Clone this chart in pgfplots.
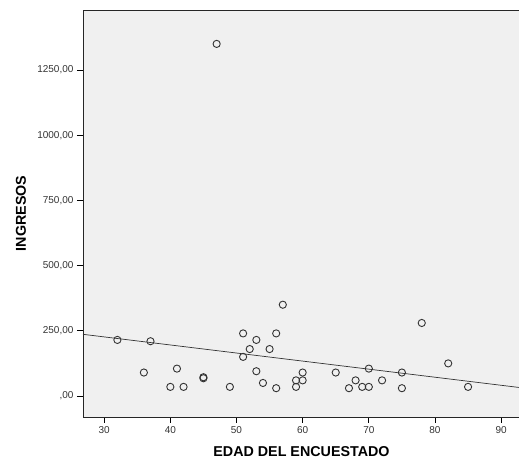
\documentclass[border=0pt]{standalone}
\usepackage{pgfplots}
\pgfplotsset{compat=1.18}
\usepackage{fontspec}
\setmainfont{Liberation Sans}
\definecolor{bggrey}{HTML}{F0F0F0}
\definecolor{ptgrey}{HTML}{333333}
\begin{document}
\begin{tikzpicture}[x=1pt,y=1pt]
\path[use as bounding box] (-83,-45) rectangle (436,417);
\begin{axis}[
  at={(0,0)}, anchor=south west,
  scale only axis,
  width=437pt, height=407pt,
  xmin=26.8, xmax=92.85,
  ymin=-80.5, ymax=1480,
  axis background/.style={fill=bggrey},
  axis line style={black!85, line width=0.7pt},
  xtick={30,40,...,90},
  ytick={0,250,500,750,1000,1250},
  yticklabels={{,00},{250,00},{500,00},{750,00},{1000,00},{1250,00}},
  tick align=outside,
  tick pos=left,
  major tick length=6pt,
  tick style={black, line width=0.7pt},
  /pgf/number format/assume math mode=true,
  ticklabel style={font=\fontsize{10}{11}\selectfont, text=black!80},
  xlabel={\textbf{EDAD DEL ENCUESTADO}},
  ylabel={\textbf{INGRESOS}},
  label style={font=\fontsize{14.3}{16}\selectfont},
  xlabel style={at={(axis description cs:0.5,0)}, yshift=-35pt, anchor=center},
  ylabel style={at={(axis description cs:-0.142,0.5)}, anchor=center},
  clip=false,
]
\addplot[only marks, mark=o, mark size=3.6pt, mark options={draw=ptgrey, line width=0.9pt}] coordinates {
(32,215) (37,210) (36,90) (41,105) (40,35) (42,35) (45,68) (45,72) (49,35)
(47,1350) (57,350) (51,240) (56,240) (53,215) (52,180) (55,180) (51,150)
(53,95) (54,50) (56,30) (59,60) (59,35) (60,90) (60,60) (65,90) (68,60)
(67,30) (69,35) (70,35) (70,105) (72,60) (75,90) (75,30) (78,280) (82,125) (85,35)
};
\addplot[draw=black!80, line width=0.7pt] coordinates {(26.8,236.5) (92.85,32.3)};
\end{axis}
\end{tikzpicture}
\end{document}
